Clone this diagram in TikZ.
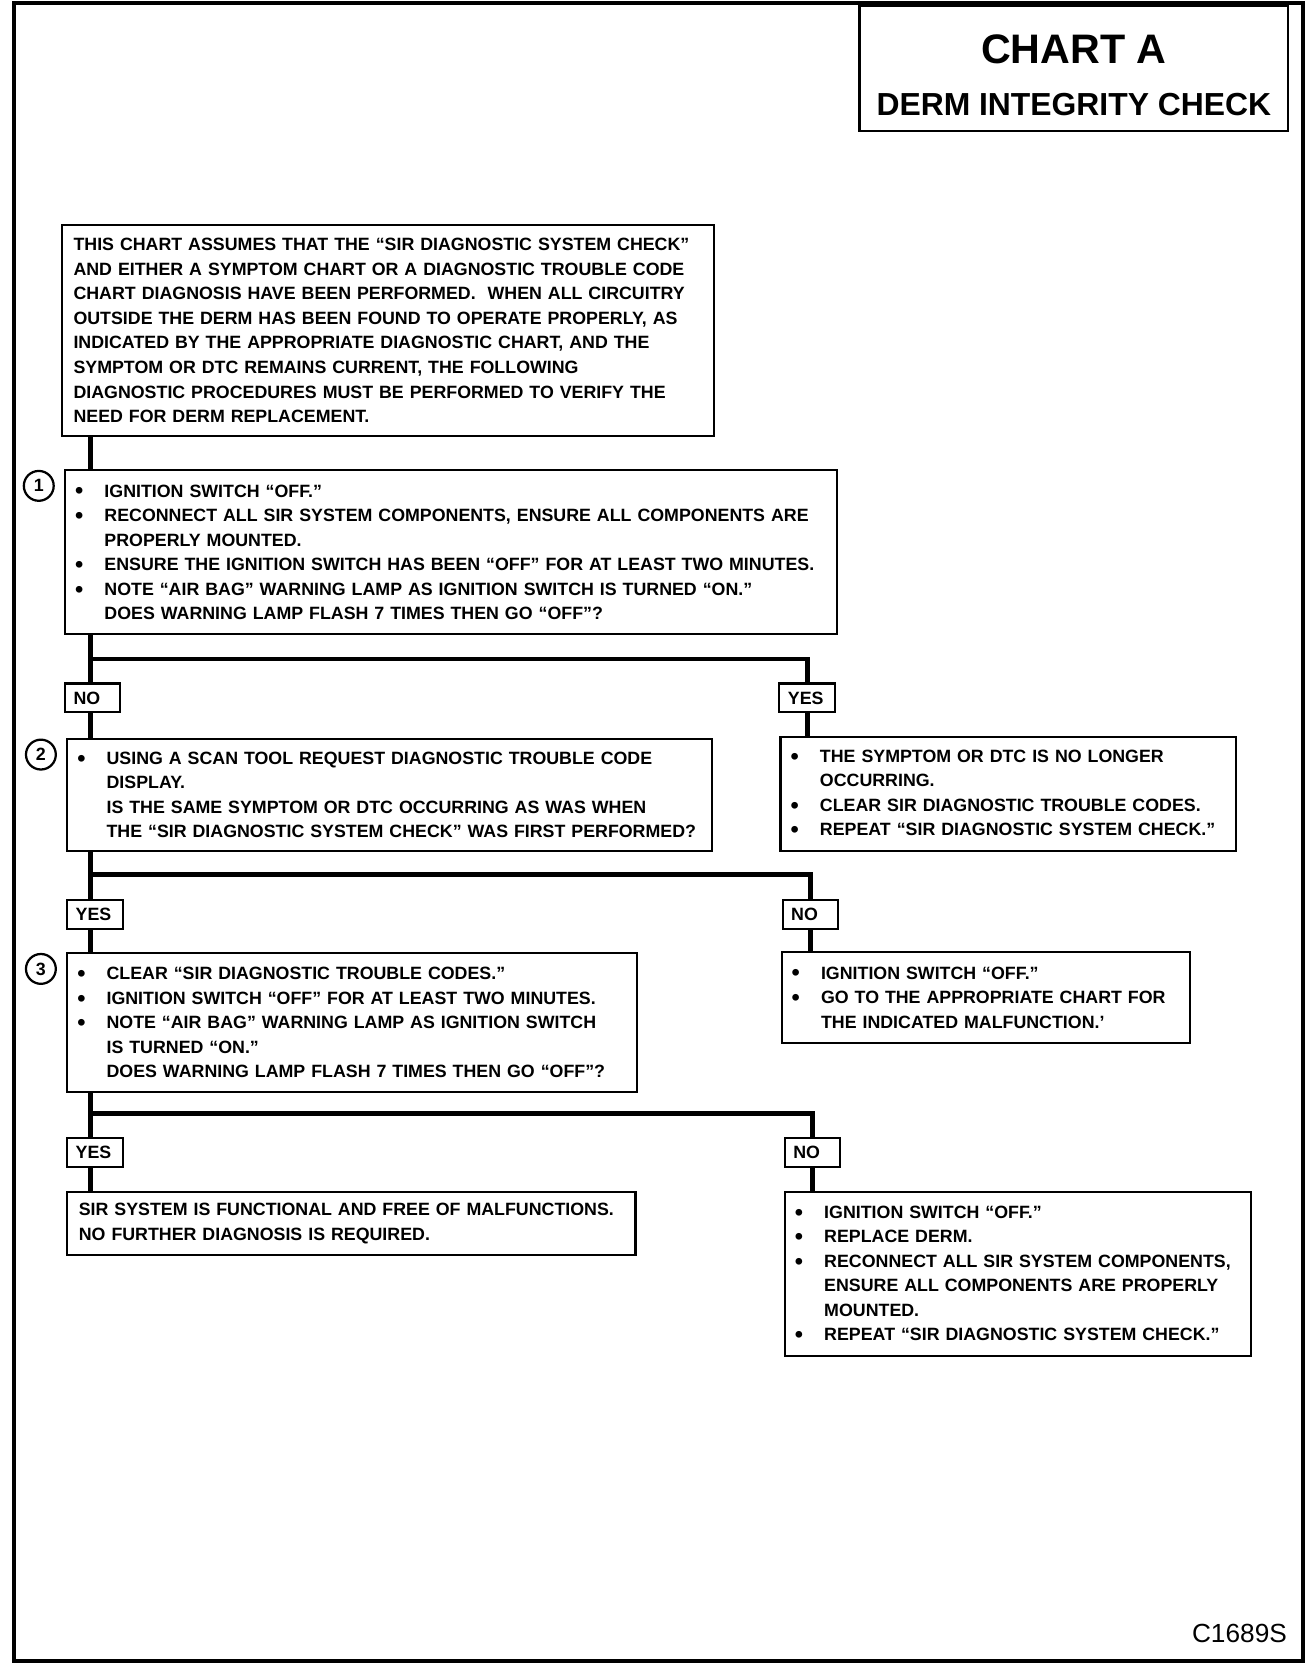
\documentclass[tikz,border=0pt]{standalone}
\usepackage{fontspec}
\setmainfont{Liberation Sans}
\usetikzlibrary{positioning}

\newcommand{\bul}{\makebox[0.59cm][l]{\hspace*{0.04cm}\raisebox{-0.2ex}{\fontsize{12.5}{13}\selectfont\textbullet}}}
\newcommand{\cont}{\hspace*{0.59cm}}

\begin{document}
\begin{tikzpicture}[
    every node/.style={font=\bfseries\fontsize{9.5}{13.1}\selectfont},
    box/.style={draw, line width=1.1pt, anchor=north west, align=left, inner xsep=0.15cm, inner ysep=0pt},
    tag/.style={draw, line width=1.1pt, anchor=north west, align=left, inner xsep=0.16cm, inner ysep=0pt, text width=0.72cm, minimum height=0.54cm},
    num/.style={draw, circle, line width=1.2pt, minimum size=0.56cm, inner sep=0pt},
    link/.style={line width=2.6pt}
]
\useasboundingbox (0,0) rectangle (24.6,-31.36);
\draw[line width=2pt] (0.26,-0.06) rectangle (24.44,-31.16);

% title block
\node[draw, line width=1.2pt, anchor=north west, minimum width=8.04cm, minimum height=2.36cm, inner sep=0pt, align=center,
      font=\bfseries\fontsize{17}{27.5}\selectfont] (title) at (16.1,-0.08)
    {\rule{0pt}{0.8cm}{\fontsize{22}{27.5}\selectfont CHART A}\\DERM INTEGRITY CHECK};

% main column
\node[box, inner xsep=0.22cm, text width=11.8cm, minimum height=3.96cm] (intro) at (1.14,-4.2)
    {THIS CHART ASSUMES THAT THE ``SIR DIAGNOSTIC SYSTEM CHECK''\\
     AND EITHER A SYMPTOM CHART OR A DIAGNOSTIC TROUBLE CODE\\
     CHART DIAGNOSIS HAVE BEEN PERFORMED.\ \ WHEN ALL CIRCUITRY\\
     OUTSIDE THE DERM HAS BEEN FOUND TO OPERATE PROPERLY, AS\\
     INDICATED BY THE APPROPRIATE DIAGNOSTIC CHART, AND THE\\
     SYMPTOM OR DTC REMAINS CURRENT, THE FOLLOWING\\
     DIAGNOSTIC PROCEDURES MUST BE PERFORMED TO VERIFY THE\\
     NEED FOR DERM REPLACEMENT.};
\node[box, text width=14.18cm, minimum height=3.08cm] (step1) at (1.2,-8.8)
    {\bul IGNITION SWITCH ``OFF.''\\
     \bul RECONNECT ALL SIR SYSTEM COMPONENTS, ENSURE ALL COMPONENTS ARE\\
     \cont PROPERLY MOUNTED.\\
     \bul ENSURE THE IGNITION SWITCH HAS BEEN ``OFF'' FOR AT LEAST TWO MINUTES.\\
     \bul NOTE ``AIR BAG'' WARNING LAMP AS IGNITION SWITCH IS TURNED ``ON.''\\
     \cont DOES WARNING LAMP FLASH 7 TIMES THEN GO ``OFF''?};
\node[tag] (no1) at (1.2,-12.8) {NO};
\node[tag] (yes1) at (14.6,-12.8) {YES};
\node[box, text width=11.8cm, minimum height=2.1cm] (step2) at (1.24,-13.84)
    {\bul USING A SCAN TOOL REQUEST DIAGNOSTIC TROUBLE CODE\\
     \cont DISPLAY.\\
     \cont IS THE SAME SYMPTOM OR DTC OCCURRING AS WAS WHEN\\
     \cont THE ``SIR DIAGNOSTIC SYSTEM CHECK'' WAS FIRST PERFORMED?};
\node[box, text width=8.24cm, minimum height=2.14cm] (cleared) at (14.62,-13.8)
    {\bul THE SYMPTOM OR DTC IS NO LONGER\\
     \cont OCCURRING.\\
     \bul CLEAR SIR DIAGNOSTIC TROUBLE CODES.\\
     \bul REPEAT ``SIR DIAGNOSTIC SYSTEM CHECK.''};
\node[tag] (yes2) at (1.24,-16.86) {YES};
\node[tag] (no2) at (14.66,-16.86) {NO};
\node[box, text width=10.38cm, minimum height=2.6cm] (step3) at (1.24,-17.86)
    {\bul CLEAR ``SIR DIAGNOSTIC TROUBLE CODES.''\\
     \bul IGNITION SWITCH ``OFF'' FOR AT LEAST TWO MINUTES.\\
     \bul NOTE ``AIR BAG'' WARNING LAMP AS IGNITION SWITCH\\
     \cont IS TURNED ``ON.''\\
     \cont DOES WARNING LAMP FLASH 7 TIMES THEN GO ``OFF''?};
\node[box, text width=7.36cm, minimum height=1.7cm] (otherchart) at (14.64,-17.84)
    {\bul IGNITION SWITCH ``OFF.''\\
     \bul GO TO THE APPROPRIATE CHART FOR\\
     \cont THE INDICATED MALFUNCTION.'};
\node[tag] (yes3) at (1.24,-21.32) {YES};
\node[tag] (no3) at (14.7,-21.32) {NO};
\node[box, inner xsep=0.22cm, text width=10.22cm, minimum height=1.18cm] (okay) at (1.24,-22.34)
    {SIR SYSTEM IS FUNCTIONAL AND FREE OF MALFUNCTIONS.\\
     NO FURTHER DIAGNOSIS IS REQUIRED.};
\node[box, text width=8.44cm, minimum height=3.08cm] (replace) at (14.7,-22.34)
    {\bul IGNITION SWITCH ``OFF.''\\
     \bul REPLACE DERM.\\
     \bul RECONNECT ALL SIR SYSTEM COMPONENTS,\\
     \cont ENSURE ALL COMPONENTS ARE PROPERLY\\
     \cont MOUNTED.\\
     \bul REPEAT ``SIR DIAGNOSTIC SYSTEM CHECK.''};

% step numbers
\node[num, below left=0.1cm and 0.26cm of step1.north west] (n1) {1};
\node[num, below left=0.1cm and 0.26cm of step2.north west] (n2) {2};
\node[num, below left=0.1cm and 0.26cm of step3.north west] (n3) {3};

% connectors
\coordinate (trunk) at (1.7,0);
\coordinate (fork1) at (1.7,-12.36);
\coordinate (fork2) at (1.7,-16.4);
\coordinate (fork3) at (1.7,-20.88);
\draw[link] (intro.south -| trunk) -- (step1.north -| trunk);
\draw[link] (step1.south -| trunk) -- (no1.north -| trunk);
\draw[link] (fork1) -| (yes1.north);
\draw[link] (no1.south -| trunk) -- (step2.north -| trunk);
\draw[link] (yes1.south) -- (yes1.south |- cleared.north);
\draw[link] (step2.south -| trunk) -- (yes2.north -| trunk);
\draw[link] (fork2) -| (no2.north);
\draw[link] (yes2.south -| trunk) -- (step3.north -| trunk);
\draw[link] (no2.south) -- (no2.south |- otherchart.north);
\draw[link] (step3.south -| trunk) -- (yes3.north -| trunk);
\draw[link] (fork3) -| (no3.north);
\draw[link] (yes3.south -| trunk) -- (okay.north -| trunk);
\draw[link] (no3.south) -- (no3.south |- replace.north);

\node[anchor=base east, font=\fontsize{14}{16}\selectfont] (code) at (24.26,-30.8) {C1689S};
\end{tikzpicture}
\end{document}
